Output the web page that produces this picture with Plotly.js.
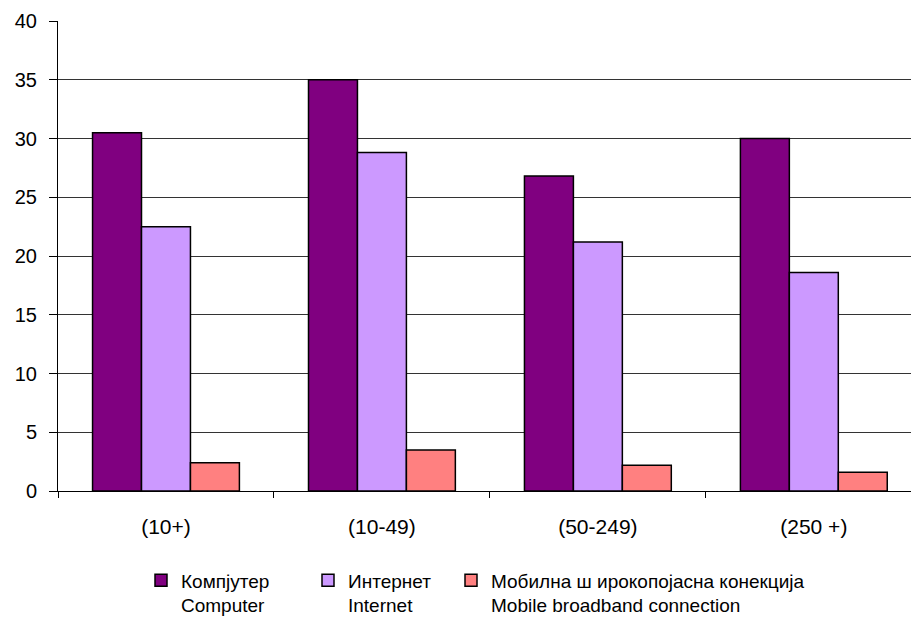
<!DOCTYPE html>
<html><head><meta charset="utf-8">
<script src="https://cdn.plot.ly/plotly-3.0.1.min.js"></script>
<style>body{margin:0;background:#fff}#c{width:911px;height:619px}</style>
</head><body><div id="c"></div>
<script>
const categories = ["(10+)", "(10-49)", "(50-249)", "(250 +)"];
const computer = [30.5, 35.0, 26.8, 30.0];
const internet = [22.5, 28.8, 21.2, 18.6];
const mobile = [2.4, 3.5, 2.2, 1.6];
const seriesNames = [
  "Компјутер<br>Computer",
  "Интернет<br>Internet",
  "Мобилна ш ирокопојасна конекција<br>Mobile broadband connection"
];
const colors = ["#800080", "#CC99FF", "#FF8080"];
const vals = [computer, internet, mobile];
const legendIds = ["legend", "legend2", "legend3"];
const data = vals.map((v, i) => ({
  type: "bar", x: categories, y: v, name: seriesNames[i], legend: legendIds[i],
  marker: {color: colors[i], line: {color: "#000", width: 1.5}}
}));
const plotW = 911 - 58;
function leg(px) {
  return {x: (px - 58) / plotW, xanchor: "left", y: -0.15, yanchor: "top",
    font: {size: 19}, valign: "top", bgcolor: "rgba(0,0,0,0)", itemwidth: 30};
}
const layout = {
  width: 911, height: 619,
  margin: {l: 58, r: 0, t: 21, b: 128, autoexpand: false},
  paper_bgcolor: "#fff", plot_bgcolor: "#fff",
  font: {family: "Liberation Sans, Arial, sans-serif", color: "#000", size: 20},
  barmode: "group", bargap: 0.32, bargroupgap: 0,
  showlegend: true,
  legend: leg(141), legend2: leg(308), legend3: leg(451),
  xaxis: {type: "category", range: [-0.5, 3.45], showgrid: false, automargin: false,
    showline: true, linecolor: "#000", linewidth: 1,
    ticks: "outside", tickson: "boundaries", ticklen: 6, tickcolor: "#000",
    ticklabelstandoff: 17, tickfont: {size: 21}},
  yaxis: {range: [0, 40], dtick: 5, showgrid: true, gridcolor: "#333", gridwidth: 1,
    automargin: false,
    showline: true, linecolor: "#000", linewidth: 1, zeroline: false,
    ticks: "outside", ticklen: 8, tickcolor: "#000", ticklabelstandoff: 8,
    tickfont: {size: 20}}
};
Plotly.newPlot("c", data, layout, {displayModeBar: false});
</script></body></html>
